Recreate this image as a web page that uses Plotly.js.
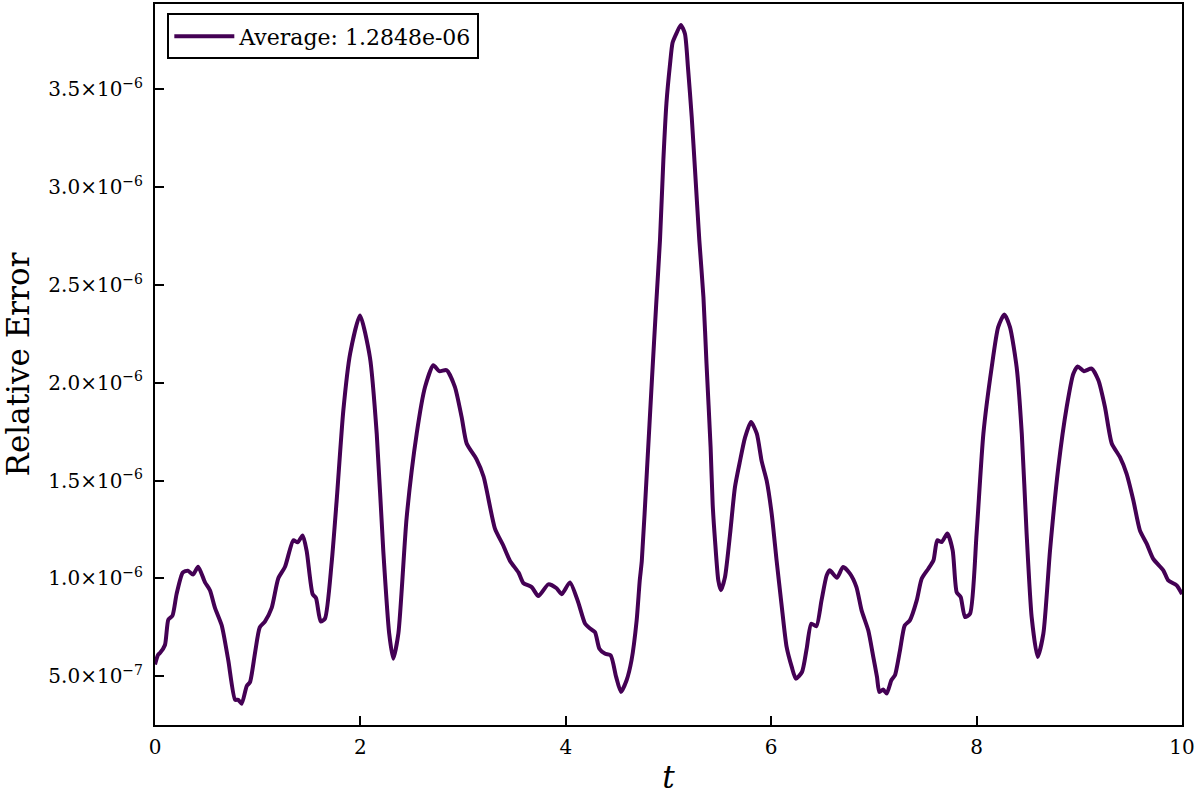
<!DOCTYPE html>
<html>
<head>
<meta charset="utf-8">
<script src="https://cdn.plot.ly/plotly-3.0.1.min.js"></script>
<style>html,body{margin:0;padding:0;background:#fff;}#chart{width:1200px;height:800px;}</style>
</head>
<body>
<div id="chart"></div>
<script>
// time values
const tValues = [
  0.00, 0.03, 0.05, 0.097, 0.13, 0.17, 0.21, 0.27, 0.32, 0.37, 0.42, 0.487, 0.535, 0.584, 0.65, 0.714,
  0.78, 0.81, 0.844, 0.893, 0.925, 0.974, 1.02, 1.07, 1.136, 1.2, 1.266, 1.347, 1.389, 1.438, 1.477,
  1.535, 1.568, 1.613, 1.655, 1.72, 1.769, 1.834, 1.9, 1.996, 2.093, 2.159, 2.223, 2.28, 2.32, 2.37,
  2.45, 2.548, 2.63, 2.71, 2.768, 2.84, 2.92, 2.986, 3.035, 3.13, 3.2, 3.31, 3.39, 3.457, 3.54, 3.586,
  3.668, 3.733, 3.83, 3.91, 3.96, 4.04, 4.12, 4.187, 4.236, 4.284, 4.327, 4.38, 4.437, 4.49, 4.537,
  4.592, 4.64, 4.69, 4.72, 4.74, 4.79, 4.84, 4.88, 4.917, 4.95, 4.98, 5.015, 5.04, 5.08, 5.12, 5.16,
  5.19, 5.226, 5.258, 5.3, 5.34, 5.37, 5.41, 5.43, 5.453, 5.485, 5.51, 5.55, 5.6, 5.647, 5.696, 5.745,
  5.803, 5.86, 5.907, 5.956, 6.005, 6.053, 6.1, 6.15, 6.2, 6.24, 6.3, 6.345, 6.39, 6.44, 6.49, 6.54,
  6.57, 6.64, 6.7, 6.767, 6.83, 6.88, 6.945, 6.994, 7.03, 7.053, 7.09, 7.125, 7.17, 7.205, 7.254, 7.3,
  7.35, 7.417, 7.465, 7.53, 7.58, 7.617, 7.66, 7.715, 7.767, 7.806, 7.845, 7.887, 7.936, 8.0, 8.066,
  8.147, 8.21, 8.27, 8.325, 8.39, 8.44, 8.487, 8.536, 8.594, 8.65, 8.715, 8.796, 8.877, 8.942, 8.985,
  9.046, 9.12, 9.186, 9.25, 9.316, 9.396, 9.46, 9.526, 9.59, 9.656, 9.72, 9.818, 9.866, 9.948, 10.0
];
// relative error values
const relError = [
  5.6e-7, 6.1e-7, 6.2e-7, 6.6e-7, 7.9e-7, 8.1e-7, 9.2e-7, 10.3e-7, 10.4e-7, 10.2e-7, 10.6e-7, 9.8e-7, 9.4e-7, 8.5e-7, 7.6e-7, 5.8e-7,
  3.8e-7, 3.8e-7, 3.6e-7, 4.5e-7, 4.7e-7, 6.2e-7, 7.5e-7, 7.8e-7, 8.5e-7, 10.0e-7, 10.6e-7, 11.95e-7, 11.85e-7, 12.2e-7, 11.4e-7,
  9.2e-7, 9.0e-7, 7.8e-7, 7.95e-7, 10.8e-7, 14.0e-7, 18.6e-7, 21.5e-7, 23.45e-7, 21.3e-7, 17.4e-7, 11.4e-7, 7.2e-7, 5.9e-7, 7.2e-7,
  13.1e-7, 17.4e-7, 19.8e-7, 20.9e-7, 20.6e-7, 20.65e-7, 19.8e-7, 18.25e-7, 16.9e-7, 16.1e-7, 15.2e-7, 12.55e-7, 11.7e-7, 10.9e-7, 10.3e-7, 9.77e-7,
  9.56e-7, 9.1e-7, 9.7e-7, 9.5e-7, 9.2e-7, 9.8e-7, 8.8e-7, 7.7e-7, 7.44e-7, 7.26e-7, 6.41e-7, 6.16e-7, 6.07e-7, 4.97e-7, 4.2e-7,
  4.8e-7, 5.82e-7, 7.86e-7, 9.9e-7, 10.9e-7, 15.5e-7, 20.3e-7, 24.0e-7, 27.3e-7, 31.4e-7, 34.3e-7, 36.3e-7, 37.4e-7, 37.9e-7, 38.3e-7, 37.85e-7,
  36.1e-7, 33.6e-7, 30.9e-7, 27.3e-7, 24.4e-7, 21.0e-7, 16.7e-7, 13.8e-7, 11.95e-7, 9.9e-7, 9.4e-7, 10.07e-7, 12.3e-7, 14.67e-7, 16.0e-7, 17.2e-7,
  18.0e-7, 17.4e-7, 16.0e-7, 15.0e-7, 13.3e-7, 10.9e-7, 8.7e-7, 6.5e-7, 5.48e-7, 4.88e-7, 5.22e-7, 6.4e-7, 7.69e-7, 7.56e-7, 8.88e-7, 10.16e-7,
  10.42e-7, 10.04e-7, 10.59e-7, 10.25e-7, 9.56e-7, 8.37e-7, 7.35e-7, 5.99e-7, 4.97e-7, 4.2e-7, 4.32e-7, 4.12e-7, 4.8e-7, 5.05e-7, 6.33e-7, 7.6e-7,
  7.86e-7, 8.88e-7, 9.99e-7, 10.5e-7, 10.93e-7, 11.95e-7, 11.86e-7, 12.3e-7, 11.44e-7, 9.3e-7, 9.05e-7, 8.03e-7, 8.2e-7, 12.3e-7, 17.4e-7,
  20.8e-7, 22.85e-7, 23.5e-7, 22.85e-7, 20.8e-7, 17.4e-7, 12.3e-7, 8.03e-7, 5.99e-7, 7.18e-7, 11.44e-7, 15.7e-7, 18.76e-7, 20.47e-7, 20.84e-7,
  20.6e-7, 20.73e-7, 20.13e-7, 18.76e-7, 16.9e-7, 16.2e-7, 15.36e-7, 14.0e-7, 12.46e-7, 11.78e-7, 11.0e-7, 10.42e-7, 9.9e-7, 9.65e-7, 9.2e-7
];
const seriesName = "Average: 1.2848e-06";
const xTickVals = [0, 2, 4, 6, 8, 10];
const xTickText = ["0", "2", "4", "6", "8", "10"];
const yTickVals = [5e-7, 1.0e-6, 1.5e-6, 2.0e-6, 2.5e-6, 3.0e-6, 3.5e-6];
const yTickText = ["5.0×10<sup>−7</sup>", "1.0×10<sup>−6</sup>", "1.5×10<sup>−6</sup>", "2.0×10<sup>−6</sup>",
                   "2.5×10<sup>−6</sup>", "3.0×10<sup>−6</sup>", "3.5×10<sup>−6</sup>"];

const FONT = "DejaVu Serif";
const trace = {
  x: tValues, y: relError, type: "scatter", mode: "lines", name: seriesName,
  line: {color: "#440154", width: 4, shape: "spline", smoothing: 0.6}
};
const axisCommon = {
  showline: true, mirror: true, linecolor: "#000", linewidth: 2,
  ticks: "inside", ticklen: 9, tickwidth: 2, tickcolor: "#000",
  showgrid: false, zeroline: false,
  tickfont: {family: FONT, size: 20, color: "#000"}
};
const layout = {
  width: 1200, height: 800,
  margin: {l: 155, r: 18, t: 4, b: 75},
  paper_bgcolor: "#fff", plot_bgcolor: "#fff",
  font: {family: FONT, color: "#000"},
  showlegend: true,
  legend: {
    x: 0.012, y: 0.987, xanchor: "left", yanchor: "top",
    bordercolor: "#000", borderwidth: 2, bgcolor: "#fff", itemwidth: 60,
    font: {family: FONT, size: 22, color: "#000"}
  },
  xaxis: Object.assign({}, axisCommon, {
    range: [0, 10], tickvals: xTickVals, ticktext: xTickText, ticklabelstandoff: 3,
    title: {text: "<i>t</i>", font: {family: FONT, size: 31, color: "#000"}, standoff: 8}
  }),
  yaxis: Object.assign({}, axisCommon, {
    range: [2.51e-7, 3.937e-6], tickvals: yTickVals, ticktext: yTickText, ticklabelstandoff: 6,
    title: {text: "Relative Error", font: {family: FONT, size: 31, color: "#000"}, standoff: 12}
  })
};
Plotly.newPlot("chart", [trace], layout, {staticPlot: true, displayModeBar: false});
</script>
</body>
</html>
